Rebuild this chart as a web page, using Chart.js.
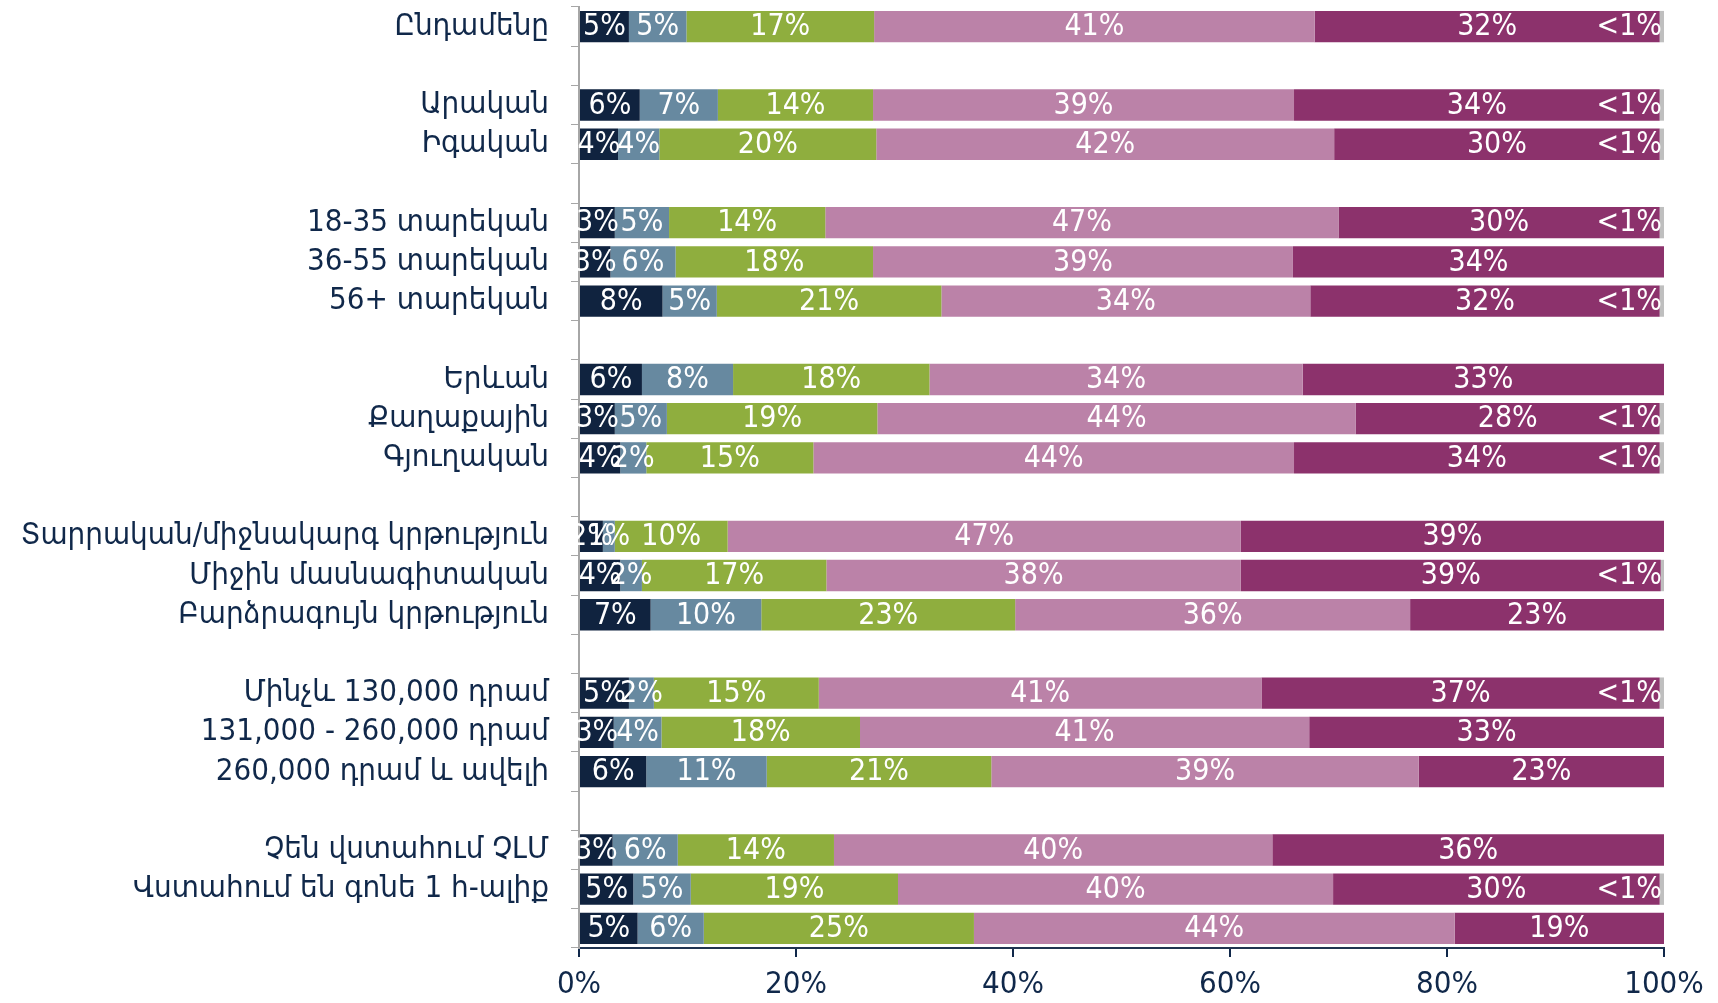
<!DOCTYPE html>
<html lang="hy">
<head>
    <meta charset="UTF-8">
    <title>Stacked bars</title>
    <style>
        body {
            margin: 0;
            background: #ffffff;
        }
        .wrap {
            width: 1718px;
            height: 1003px;
            position: relative;
        }
    </style>
    <script src="https://cdn.jsdelivr.net/npm/chart.js"></script>
</head>
<body>

<div class="wrap">
    <canvas id="barChart"></canvas>
</div>

<script>
    // row labels ('' = spacer row between groups, last row has no label)
    const categories = [
        'Ընդամենը', '',
        'Արական', 'Իգական', '',
        '18-35 տարեկան', '36-55 տարեկան', '56+ տարեկան', '',
        'Երևան', 'Քաղաքային', 'Գյուղական', '',
        'Տարրական/միջնակարգ կրթություն', 'Միջին մասնագիտական', 'Բարձրագույն կրթություն', '',
        'Մինչև 130,000 դրամ', '131,000 - 260,000 դրամ', '260,000 դրամ և ավելի', '',
        'Չեն վստահում ՉԼՄ', 'Վստահում են գոնե 1 հ-ալիք', ''
    ];

    // shares in %
    const navy    = [4.6, null, 5.6, 3.6, null, 3.3, 2.9, 7.7, null, 5.8, 3.3, 3.8, null, 2.2, 3.8, 6.6, null, 4.6, 3.2, 6.2, null, 3.1, 5.0, 5.4];
    const slate   = [5.3, null, 7.2, 3.8, null, 5.0, 6.0, 5.0, null, 8.4, 4.8, 2.4, null, 1.1, 2.0, 10.2, null, 2.3, 4.4, 11.1, null, 6.0, 5.3, 6.1];
    const green   = [17.3, null, 14.3, 20.0, null, 14.4, 18.2, 20.7, null, 18.1, 19.4, 15.4, null, 10.4, 17.0, 23.4, null, 15.2, 18.3, 20.7, null, 14.4, 19.1, 24.9];
    const pink    = [40.6, null, 38.8, 42.2, null, 47.3, 38.7, 34.0, null, 34.4, 44.1, 44.3, null, 47.3, 38.2, 36.4, null, 40.8, 41.4, 39.4, null, 40.4, 40.1, 44.3];
    const magenta = [31.8, null, 33.7, 30.0, null, 29.6, 34.2, 32.2, null, 33.3, 28.0, 33.7, null, 39.0, 38.7, 23.4, null, 36.7, 32.7, 22.6, null, 36.1, 30.1, 19.3];
    const under1  = [0.4, null, 0.4, 0.4, null, 0.4, null, 0.4, null, null, 0.4, 0.4, null, null, 0.3, null, null, 0.4, null, null, null, null, 0.4, null];

    const xTicks = [0, 20, 40, 60, 80, 100];

    const textColor = '#10284a';
    const labelFont = '"Liberation Sans Narrow", "DejaVu Sans Condensed", sans-serif';

    // white value labels inside the segments
    const barLabels = {
        id: 'barLabels',
        afterDatasetsDraw(chart) {
            const ctx = chart.ctx;
            ctx.save();
            ctx.fillStyle = '#ffffff';
            ctx.font = '30px ' + labelFont;
            ctx.textBaseline = 'middle';
            chart.data.datasets.forEach((ds, i) => {
                chart.getDatasetMeta(i).data.forEach((bar, j) => {
                    const v = ds.data[j];
                    if (v == null || v === 0) return;
                    if (i === 5) {
                        ctx.textAlign = 'right';
                        ctx.fillText('<1%', bar.x - 2, bar.y + 1);
                    } else {
                        ctx.textAlign = 'center';
                        ctx.fillText(Math.round(v) + '%', (bar.x + bar.base) / 2, bar.y + 1);
                    }
                });
            });
            ctx.restore();
        }
    };

    const mk = (name, data, color) => ({
        label: name,
        data: data,
        backgroundColor: color,
        borderWidth: 0,
        barPercentage: 1.0,
        categoryPercentage: 0.8
    });

    new Chart(document.getElementById('barChart'), {
        type: 'bar',
        data: {
            labels: categories,
            datasets: [
                mk('1', navy, '#10233f'),
                mk('2', slate, '#6789a0'),
                mk('3', green, '#8fae3e'),
                mk('4', pink, '#bb82a8'),
                mk('5', magenta, '#8c326c'),
                mk('6', under1, '#bfbfbf')
            ]
        },
        options: {
            indexAxis: 'y',
            responsive: true,
            maintainAspectRatio: false,
            animation: false,
            layout: {
                padding: { top: 7, right: 54, bottom: 0, left: 0 }
            },
            plugins: {
                legend: { display: false },
                tooltip: { enabled: false }
            },
            scales: {
                x: {
                    stacked: true,
                    min: 0,
                    max: 100,
                    afterBuildTicks: (s) => { s.ticks = xTicks.map(v => ({ value: v })); },
                    afterFit: (s) => { s.height = 55; s.paddingLeft = 0; s.paddingRight = 0; },
                    grid: {
                        drawOnChartArea: false,
                        drawTicks: true,
                        tickLength: 9,
                        color: textColor,
                        lineWidth: 2
                    },
                    border: { color: '#1f3350', width: 2 },
                    ticks: {
                        color: textColor,
                        padding: 9,
                        font: { family: labelFont, size: 31 },
                        callback: (v) => v + '%'
                    }
                },
                y: {
                    stacked: true,
                    afterFit: (s) => { s.width = 579; s.paddingTop = 0; s.paddingBottom = 0; },
                    grid: {
                        drawOnChartArea: false,
                        drawTicks: true,
                        tickLength: 8,
                        color: '#a6a6a6',
                        offset: true
                    },
                    border: { color: '#a6a6a6', width: 2 },
                    ticks: {
                        color: textColor,
                        padding: 22,
                        autoSkip: false,
                        font: { family: '"DejaVu Sans Condensed", "DejaVu Sans", sans-serif', size: 31 }
                    }
                }
            }
        },
        plugins: [barLabels]
    });
</script>

</body>
</html>
